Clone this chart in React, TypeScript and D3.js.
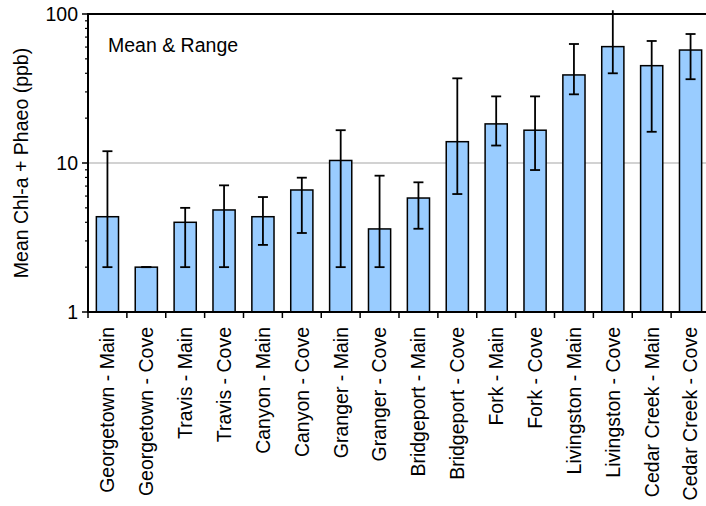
import React, { useEffect, useRef } from 'react';
import * as d3 from 'd3';

const categories = [
  'Georgetown - Main', 'Georgetown - Cove', 'Travis - Main', 'Travis - Cove',
  'Canyon - Main', 'Canyon - Cove', 'Granger - Main', 'Granger - Cove',
  'Bridgeport - Main', 'Bridgeport - Cove', 'Fork - Main', 'Fork - Cove',
  'Livingston - Main', 'Livingston - Cove', 'Cedar Creek - Main', 'Cedar Creek - Cove',
];
const means = [4.36, 2.0, 4.0, 4.84, 4.36, 6.59, 10.4, 3.61, 5.82, 13.9, 18.3, 16.6, 39.0, 60.4, 45.0, 57.3];
const mins = [2.0, 2.0, 2.0, 2.0, 2.82, 3.39, 2.0, 2.0, 3.62, 6.19, 13.1, 8.97, 28.9, 40.0, 16.2, 36.5];
const maxs = [12.0, 2.0, 5.0, 7.08, 5.91, 7.97, 16.6, 8.22, 7.42, 37.0, 28.0, 28.0, 62.9, 106, 65.9, 73.4];
const yTicks = [1, 10, 100];
const minorTicks = [2, 3, 4, 5, 6, 7, 8, 9, 20, 30, 40, 50, 60, 70, 80, 90];

const W = 706;
const H = 506;
const margin = { top: 14, left: 88, bottom: 194 };
const plotRight = 710;

export default function App() {
  const svgRef = useRef<SVGSVGElement>(null);

  useEffect(() => {
    const svg = d3.select(svgRef.current);
    svg.selectAll('*').remove();
    const font = 'Arial, "Liberation Sans", sans-serif';
    const fs = '19.5px';

    const x = d3.scaleBand().domain(categories).range([margin.left, plotRight]).paddingInner(0.43).paddingOuter(0.215);
    const xb = d3.scaleBand().domain(categories).range([margin.left, plotRight]);
    const y = d3.scaleLog().domain([1, 100]).range([H - margin.bottom, margin.top]);

    // gridline at 10
    svg.append('line')
      .attr('x1', margin.left).attr('x2', plotRight)
      .attr('y1', y(10)).attr('y2', y(10))
      .attr('stroke', '#a6a6a6').attr('stroke-width', 1.2);

    // top border
    svg.append('line')
      .attr('x1', margin.left).attr('x2', plotRight)
      .attr('y1', y(100)).attr('y2', y(100))
      .attr('stroke', '#000').attr('stroke-width', 2);

    const data = categories.map((c, i) => ({ c, mean: means[i], lo: mins[i], hi: maxs[i] }));

    svg.append('g').selectAll('rect').data(data).join('rect')
      .attr('x', d => x(d.c)!)
      .attr('width', x.bandwidth())
      .attr('y', d => y(d.mean))
      .attr('height', d => y(1) - y(d.mean))
      .attr('fill', '#99ccff')
      .attr('stroke', '#000')
      .attr('stroke-width', 1.5);

    // error bars
    const eb = svg.append('g').attr('stroke', '#000').attr('stroke-width', 1.8);
    data.forEach(d => {
      const cx = x(d.c)! + x.bandwidth() / 2;
      eb.append('line').attr('x1', cx).attr('x2', cx).attr('y1', y(d.lo)).attr('y2', y(d.hi));
      const caps = d.hi > 100 ? [d.lo] : [d.lo, d.hi];
      caps.forEach(v => {
        eb.append('line').attr('x1', cx - 5).attr('x2', cx + 5).attr('y1', y(v)).attr('y2', y(v));
      });
    });

    // y axis
    const yAxis = svg.append('g').attr('transform', `translate(${margin.left},0)`);
    yAxis.append('line').attr('x1', 0).attr('x2', 0).attr('y1', y(100) - 1).attr('y2', y(1))
      .attr('stroke', '#000').attr('stroke-width', 2);
    yAxis.selectAll('.major').data(yTicks).join('line')
      .attr('x1', -6).attr('x2', 0).attr('y1', d => y(d)).attr('y2', d => y(d))
      .attr('stroke', '#000').attr('stroke-width', 1.5);
    yAxis.selectAll('.minor').data(minorTicks).join('line')
      .attr('x1', -3).attr('x2', 0).attr('y1', d => y(d)).attr('y2', d => y(d))
      .attr('stroke', '#000').attr('stroke-width', 1.2);
    yAxis.selectAll('text').data(yTicks).join('text')
      .attr('x', -10).attr('y', d => y(d)).attr('dy', '0.35em')
      .attr('text-anchor', 'end')
      .style('font-family', font).style('font-size', fs)
      .text(d => d3.format('d')(d));

    // x axis
    const xAxis = svg.append('g').attr('transform', `translate(0,${y(1)})`);
    xAxis.append('line').attr('x1', margin.left - 1).attr('x2', plotRight).attr('y1', 0).attr('y2', 0)
      .attr('stroke', '#000').attr('stroke-width', 2);
    const bounds = categories.map(c => xb(c)!).concat([plotRight]);
    xAxis.selectAll('.tick').data(bounds).join('line')
      .attr('x1', d => d).attr('x2', d => d).attr('y1', 0).attr('y2', 6)
      .attr('stroke', '#000').attr('stroke-width', 1.5);
    xAxis.selectAll('text').data(categories).join('text')
      .attr('transform', d => `translate(${xb(d)! + xb.bandwidth() / 2},15) rotate(-90)`)
      .attr('dy', '0.35em')
      .attr('text-anchor', 'end')
      .style('font-family', font).style('font-size', fs)
      .text(d => d);

    // y title
    svg.append('text')
      .attr('transform', `translate(21,${(y(1) + y(100)) / 2}) rotate(-90)`)
      .attr('dy', '0.35em')
      .attr('text-anchor', 'middle')
      .style('font-family', font).style('font-size', fs)
      .text('Mean Chl-a + Phaeo (ppb)');

    svg.append('text')
      .attr('x', 108).attr('y', 52)
      .style('font-family', font).style('font-size', fs)
      .text('Mean & Range');
  }, []);

  return (
    <svg ref={svgRef} width={W} height={H}
      style={{ position: 'fixed', left: 0, top: 0, background: '#fff', display: 'block' }} />
  );
}
